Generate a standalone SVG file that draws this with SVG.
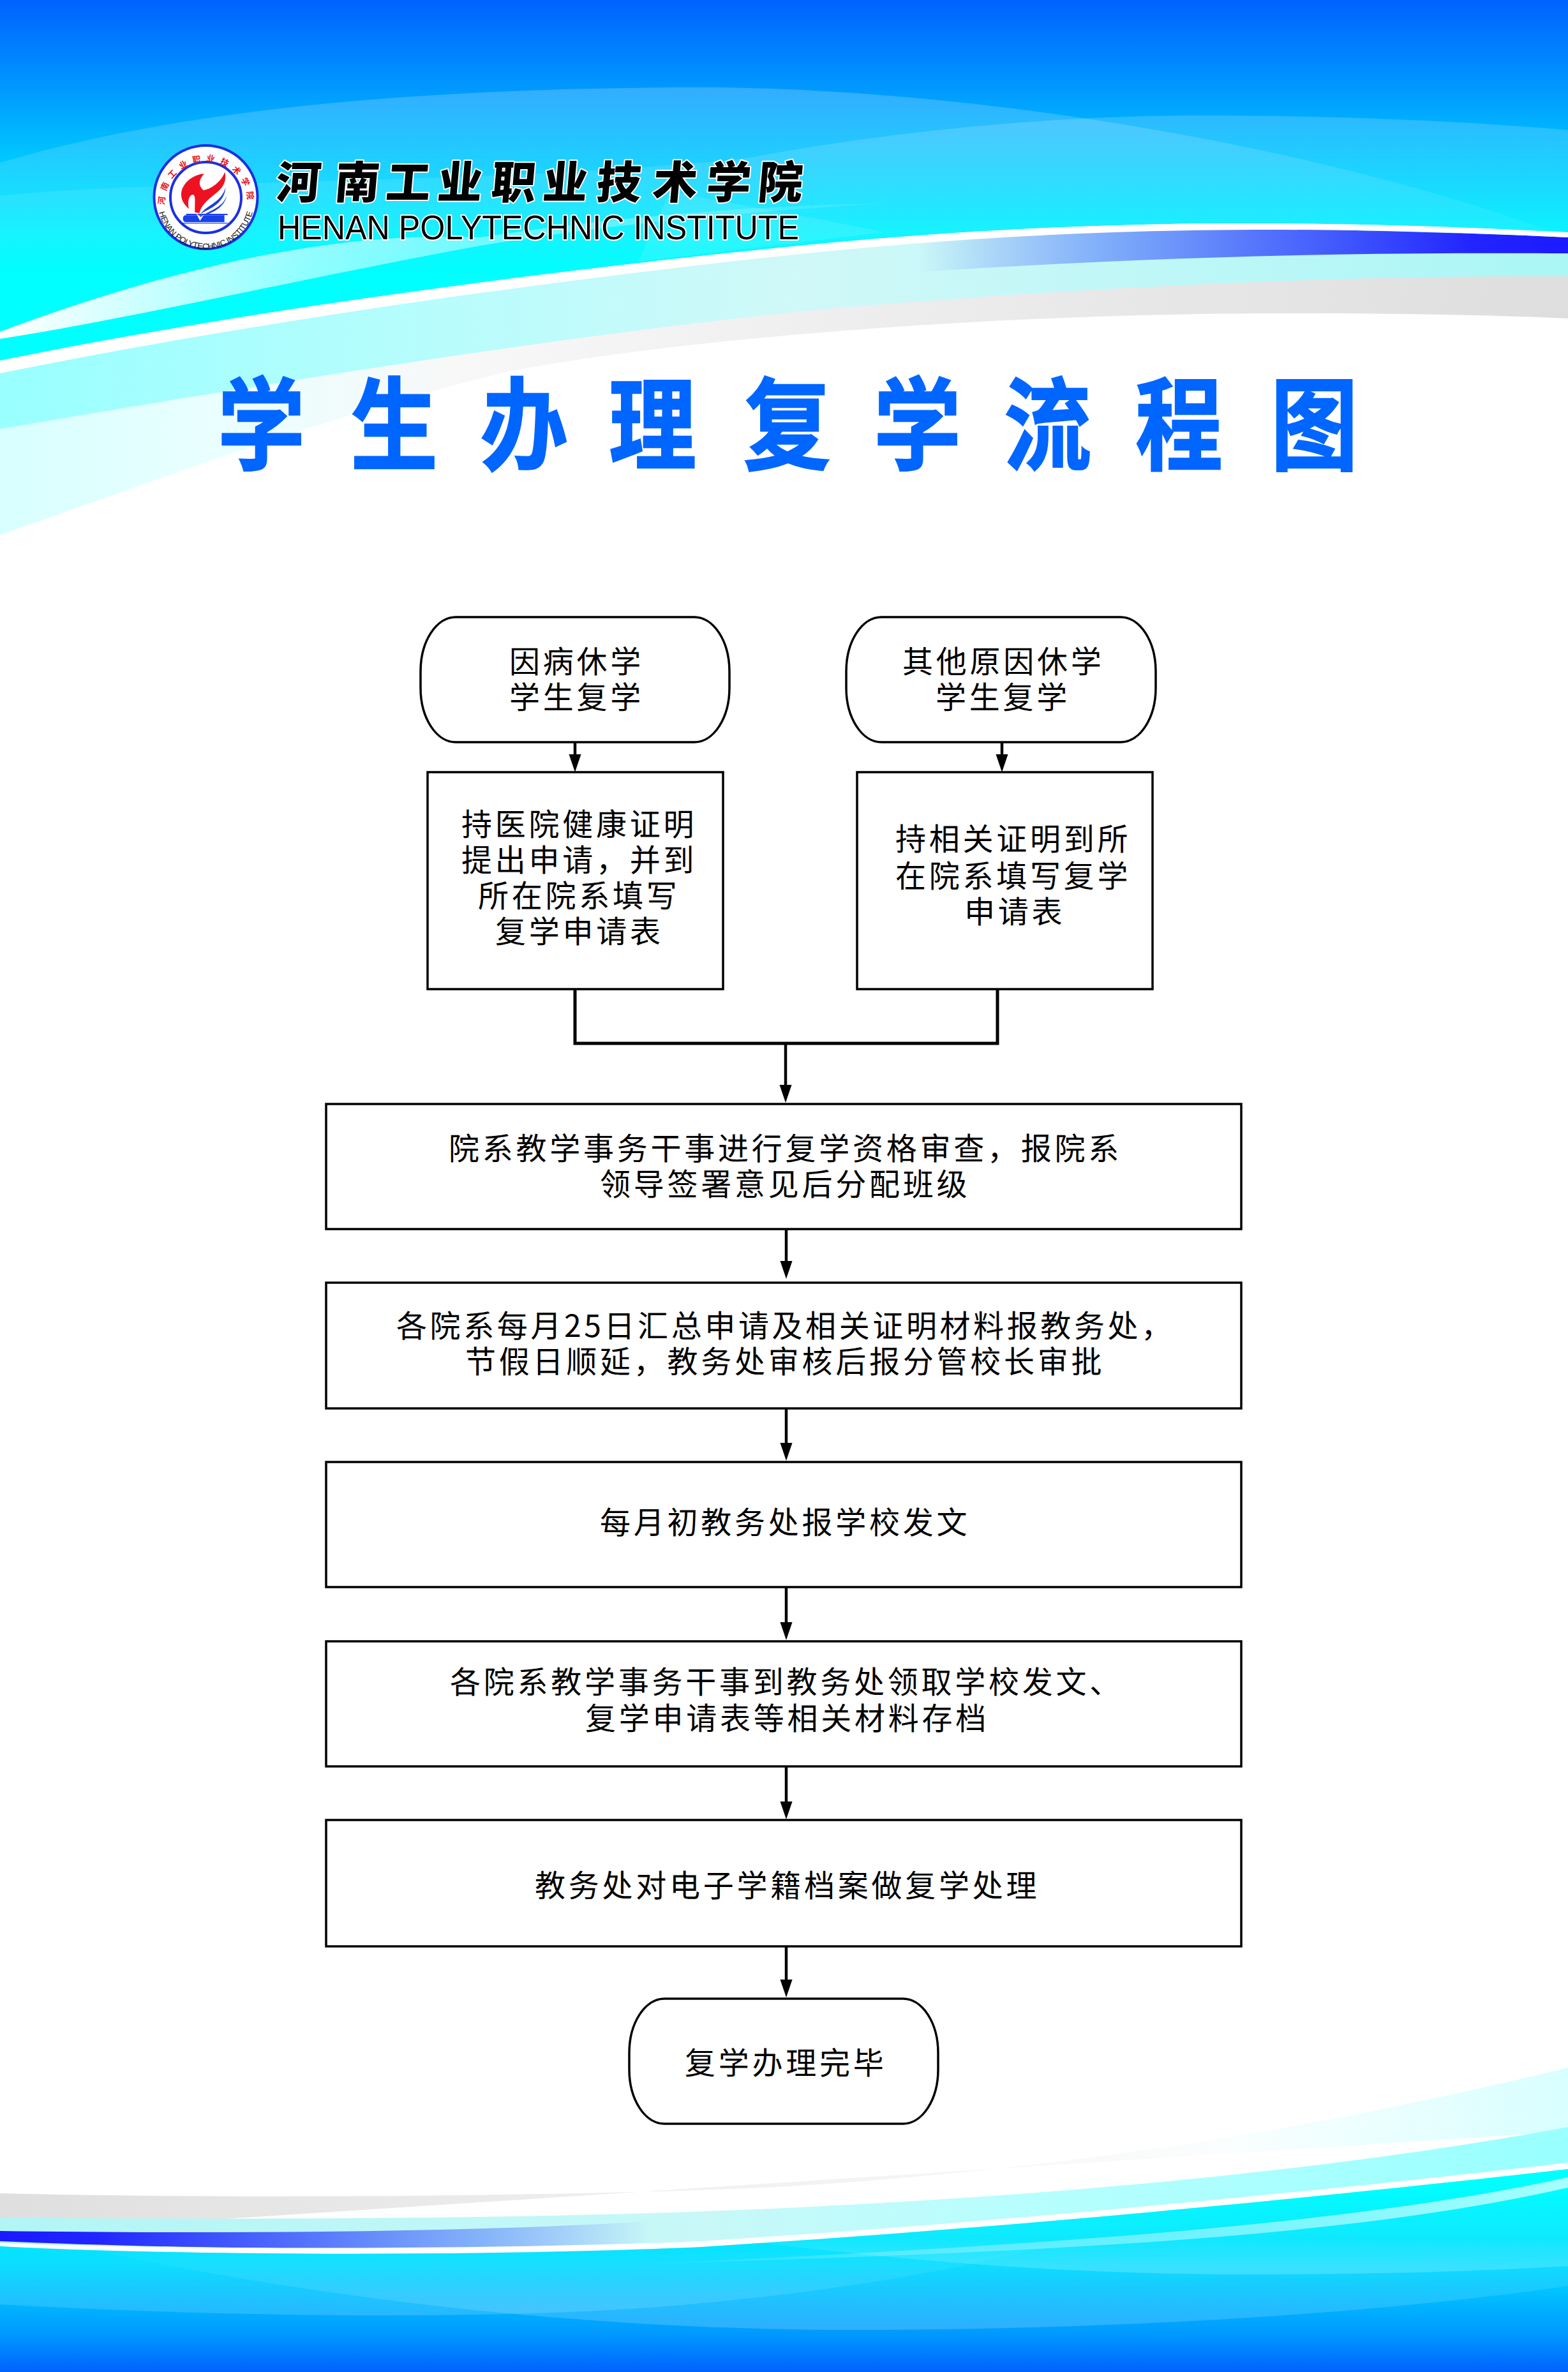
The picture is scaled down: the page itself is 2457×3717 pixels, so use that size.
<svg xmlns="http://www.w3.org/2000/svg" width="2457" height="3717" viewBox="0 0 2457 3717">
<style>
.b{fill:#fff;stroke:#000;stroke-width:3.5}
.t{font-family:"Noto Sans CJK SC","Liberation Sans",sans-serif;font-size:48px;letter-spacing:4.75px;fill:#000}
.c{fill:none;stroke:#000;stroke-width:4.500}
.w{fill:#fff}
</style>
<defs>
<marker id="arr" markerUnits="userSpaceOnUse" markerWidth="30" markerHeight="22" refX="18" refY="10" orient="auto"><path d="M0,0.5 L28,10 L0,19.5 Z" fill="#000"/></marker>
<linearGradient id="topBase" gradientUnits="userSpaceOnUse" x1="0" y1="0" x2="0" y2="436"><stop offset="0" stop-color="#0062ff"/><stop offset=".27" stop-color="#0090ff"/><stop offset=".53" stop-color="#00c0ff"/><stop offset=".85" stop-color="#00f4ff"/><stop offset="1" stop-color="#00ffff"/></linearGradient>
<linearGradient id="botBase" gradientUnits="userSpaceOnUse" x1="0" y1="3420" x2="0" y2="3717"><stop offset="0" stop-color="#00ffff"/><stop offset=".43" stop-color="#00dcff"/><stop offset=".8" stop-color="#0099ff"/><stop offset="1" stop-color="#0062ff"/></linearGradient>
<linearGradient id="topWave" gradientUnits="userSpaceOnUse" x1="0" y1="140" x2="0" y2="430"><stop offset="0" stop-color="#fff" stop-opacity=".2"/><stop offset=".55" stop-color="#fff" stop-opacity=".09"/><stop offset="1" stop-color="#fff" stop-opacity="0"/></linearGradient>
<linearGradient id="botWaveA" gradientUnits="userSpaceOnUse" x1="0" y1="3420" x2="0" y2="3565"><stop offset="0" stop-color="#fff" stop-opacity="0"/><stop offset=".6" stop-color="#fff" stop-opacity=".06"/><stop offset="1" stop-color="#fff" stop-opacity=".2"/></linearGradient>
<linearGradient id="botWaveB" gradientUnits="userSpaceOnUse" x1="0" y1="3510" x2="0" y2="3650"><stop offset="0" stop-color="#fff" stop-opacity="0"/><stop offset="1" stop-color="#fff" stop-opacity=".18"/></linearGradient>
<linearGradient id="topY" gradientUnits="userSpaceOnUse" x1="0" y1="0" x2="2457" y2="0"><stop offset="0" stop-color="#99ffff"/><stop offset=".25" stop-color="#b5fdfd"/><stop offset=".51" stop-color="#d0f8f8"/><stop offset="1" stop-color="#abf6f6"/></linearGradient>
<linearGradient id="topG" gradientUnits="userSpaceOnUse" x1="0" y1="0" x2="2457" y2="0"><stop offset="0" stop-color="#d8ffff"/><stop offset=".14" stop-color="#eaffff"/><stop offset=".29" stop-color="#f8f8f8"/><stop offset=".57" stop-color="#ededed"/><stop offset="1" stop-color="#dedede"/></linearGradient>
<linearGradient id="botY" gradientUnits="userSpaceOnUse" x1="0" y1="0" x2="2457" y2="0"><stop offset="0" stop-color="#b2f5f5"/><stop offset=".45" stop-color="#c8f8f8"/><stop offset=".65" stop-color="#b8fefe"/><stop offset="1" stop-color="#99ffff"/></linearGradient>
<linearGradient id="botG" gradientUnits="userSpaceOnUse" x1="0" y1="0" x2="2457" y2="0"><stop offset="0" stop-color="#dfdfdf"/><stop offset=".4" stop-color="#efefef"/><stop offset=".61" stop-color="#f6f6f6"/><stop offset=".78" stop-color="#fbfefe"/><stop offset="1" stop-color="#d8ffff"/></linearGradient>
<linearGradient id="topBlue" gradientUnits="userSpaceOnUse" x1="1440" y1="0" x2="2457" y2="0"><stop offset="0" stop-color="#1a1aff" stop-opacity="0"/><stop offset=".25" stop-color="#1a3aff" stop-opacity=".35"/><stop offset=".51" stop-color="#1a2aff" stop-opacity=".62"/><stop offset=".85" stop-color="#1a1aff" stop-opacity=".95"/><stop offset="1" stop-color="#1a1aff"/></linearGradient>
<linearGradient id="botBlue" gradientUnits="userSpaceOnUse" x1="1019" y1="0" x2="0" y2="0"><stop offset="0" stop-color="#1a1aff" stop-opacity="0"/><stop offset=".25" stop-color="#1a3aff" stop-opacity=".35"/><stop offset=".51" stop-color="#1a2aff" stop-opacity=".62"/><stop offset=".85" stop-color="#1a1aff" stop-opacity=".95"/><stop offset="1" stop-color="#1a1aff"/></linearGradient>
<linearGradient id="topThin" gradientUnits="userSpaceOnUse" x1="0" y1="0" x2="1400" y2="0"><stop offset="0" stop-color="#fff"/><stop offset=".35" stop-color="#fff" stop-opacity=".55"/><stop offset="1" stop-color="#fff" stop-opacity=".05"/></linearGradient>
<linearGradient id="botThin" gradientUnits="userSpaceOnUse" x1="2457" y1="0" x2="1000" y2="0"><stop offset="0" stop-color="#fff" stop-opacity=".65"/><stop offset=".5" stop-color="#fff" stop-opacity=".35"/><stop offset="1" stop-color="#fff" stop-opacity=".05"/></linearGradient>
<clipPath id="clipTop"><path d="M0,0 H2457 V364 C1900,335 1550,356 1254,385 C900,420 420,480 0,565 Z"/></clipPath>
<clipPath id="clipBot"><path d="M2457,3399 C2100,3440 1600,3490 1100,3521 C800,3535 300,3536 0,3520 V3717 H2457 Z"/></clipPath>
<path id="arcTop" d="M258,318 A65,65 0 1 1 388,318"/>
<path id="arcBot" d="M247,315 A75.500,75.500 0 0 0 398,315"/>
</defs>

<rect width="2457" height="3717" fill="#fff"/>

<g id="banner-top">
<path d="M0,600 L0,838 C200,770 480,660 784,585 C1000,540 1500,490 2037,491 C2200,491 2350,494 2457,499 V400 H0 Z" fill="url(#topG)"/>
<path d="M0,686 L0,672 C600,570 950,520 1254,488 C1500,465 2000,430 2457,433 V360 H0 Z" fill="url(#topY)"/>
<path d="M0,0 H2457 V364 C1900,335 1550,356 1254,385 C900,420 420,480 0,565 Z" fill="url(#topBase)"/>
<g clip-path="url(#clipTop)">
<path d="M0,255 C300,165 700,137 1097,137 C1500,137 2050,220 2457,372 V500 H0 Z" fill="url(#topWave)"/>
<path d="M0,307 C250,280 800,290 1175,247 C1400,205 1650,181 1880,181 C2100,181 2300,190 2457,204 V500 H0 Z" fill="url(#topWave)"/>
<path d="M1050,300 C1150,320 1300,345 1385,364 L1000,410 Z" fill="#fff" fill-opacity=".1"/>
</g>
<path d="M0,520 C200,445 480,360 752,372 C1000,335 1200,322 1400,318 C1200,330 1000,345 752,385 C480,435 200,500 0,531 Z" fill="url(#topThin)"/>
<path d="M1440,378 C1700,358 1950,350 2457,372 L2457,397 C2100,395 1800,403 1440,426 Z" fill="url(#topBlue)"/>
<path d="M0,565 C420,480 900,420 1254,385 C1550,356 1900,335 2457,364 L2457,372 C1900,345 1550,368 1254,398 C900,435 420,500 0,585 Z" class="w"/>
</g>

<g id="banner-bottom">
<path d="M0,3437 C400,3447 1000,3440 1254,3425 C1650,3400 2050,3340 2457,3240 V3340 L0,3500 Z" fill="url(#botG)"/>
<path d="M2457,3333 C2100,3400 1600,3450 1019,3468 C700,3478 300,3478 0,3475 V3560 H2457 Z" fill="url(#botY)"/>
<path d="M0,3496 C300,3500 700,3500 1019,3481 L1019,3518 C700,3528 300,3525 0,3512 Z" fill="url(#botBlue)"/>
<path d="M2457,3389 C2100,3430 1600,3480 1100,3512 C800,3525 300,3526 0,3515 L0,3520 C300,3536 800,3535 1100,3521 C1600,3490 2100,3440 2457,3399 Z" class="w"/>
<path d="M2457,3399 C2100,3440 1600,3490 1100,3521 C800,3535 300,3536 0,3520 V3717 H2457 Z" fill="url(#botBase)"/>
<g clip-path="url(#clipBot)">
<path d="M1081,3500 C1300,3530 1600,3564 1959,3564 C2150,3564 2300,3560 2457,3551 V3380 H1081 Z" fill="url(#botWaveA)"/>
<path d="M0,3611 C300,3628 800,3640 1100,3609 C1350,3585 1550,3550 1750,3490 V3400 H0 Z" fill="url(#botWaveB)"/>
<path d="M0,3490 C300,3570 800,3651 1332,3651 C1800,3651 2200,3620 2457,3582 V3400 H0 Z" fill="url(#botWaveB)"/>
<path d="M2457,3412 C2100,3490 1600,3520 1000,3548 C1600,3530 2100,3510 2457,3428 Z" fill="url(#botThin)"/>
</g>
</g>

<g id="logo">
<circle cx="322.500" cy="309" r="81" fill="#fff" stroke="#1a30e0" stroke-width="4"/>
<circle cx="322.500" cy="309.500" r="55.500" fill="#fff" stroke="#1a30e0" stroke-width="4"/>
<text font-family="Noto Sans CJK SC,sans-serif" font-size="13" font-weight="700" fill="#e8101c" letter-spacing="8" text-anchor="middle"><textPath href="#arcTop" startOffset="50%">河南工业职业技术学院</textPath></text>
<text font-family="Liberation Sans Narrow,Liberation Sans,sans-serif" font-size="13" fill="#111" letter-spacing="-.4" text-anchor="middle"><textPath href="#arcBot" startOffset="50%">HENAN POLYTECHNIC INSTITUTE</textPath></text>
<g transform="translate(220,210) scale(.3333)">
<path d="M300,187 C245,190 192,235 192,285 C192,315 210,335 228,352 C222,320 225,290 245,285 C262,285 255,320 256,368 L278,372 C285,330 330,300 365,270 C395,245 405,215 397,178 C385,215 345,255 297,265 C280,250 265,225 300,187 Z" fill="#ee1122"/>
<path d="M285,375 C310,335 385,320 400,250 C400,300 360,340 300,365 Z M300,378 C340,355 390,340 405,290 C400,330 360,365 300,382 Z" fill="#1a40e0"/>
<path d="M215,375 H410 V381 H215 Z M212,382 H395 V414 H212 C196,414 196,382 212,382 Z M200,417 H410 V421 H200 Z" fill="#1a40e8"/>
<path d="M262,372 L280,408 L300,378 L284,390 Z" fill="#fff"/>
</g>
</g>

<g id="school-name" style="paint-order:stroke" stroke="#fff" stroke-linejoin="round">
<text transform="translate(0,311) skewX(-5)" x="431 523 603 684 768 849 933 1021 1105 1186" font-family="Noto Sans CJK SC,sans-serif" font-size="70" font-weight="900" fill="#000" stroke-width="4">河南工业职业技术学院</text>
<text x="435" y="375" font-family="Liberation Sans,sans-serif" font-size="53" fill="#000" stroke-width="4" textLength="817" lengthAdjust="spacingAndGlyphs">HENAN POLYTECHNIC INSTITUTE</text>
</g>

<text id="title" transform="translate(0,724) scale(1,1.15)" x="341 549 753 954 1165 1369 1573 1779 1991" y="0" font-family="Noto Sans CJK SC,sans-serif" font-size="137" font-weight="700" fill="#0066ff" stroke="#0066ff" stroke-width="2">学生办理复学流程图</text>

<g id="connectors">
<line class="c" x1="901" y1="1163" x2="901" y2="1200" marker-end="url(#arr)"/>
<line class="c" x1="1570" y1="1163" x2="1570" y2="1200" marker-end="url(#arr)"/>
<path class="c" d="M901,1550 V1635 H1563 V1550" style="stroke-width:5"/>
<line class="c" x1="1231" y1="1635" x2="1231" y2="1718" marker-end="url(#arr)"/>
<line class="c" x1="1232" y1="1920" x2="1232" y2="1994" marker-end="url(#arr)"/>
<line class="c" x1="1232" y1="2207" x2="1232" y2="2279" marker-end="url(#arr)"/>
<line class="c" x1="1232" y1="2487" x2="1232" y2="2560" marker-end="url(#arr)"/>
<line class="c" x1="1232" y1="2768" x2="1232" y2="2841" marker-end="url(#arr)"/>
<line class="c" x1="1232" y1="3047" x2="1232" y2="3120" marker-end="url(#arr)"/>
</g>

<g id="node-illness"><rect class="b" x="659" y="967" width="484" height="196" rx="55" ry="85"/>
<text class="t" x="798" y="1054">因病休学</text><text class="t" x="798" y="1110">学生复学</text></g>
<g id="node-other"><rect class="b" x="1326" y="967" width="485" height="196" rx="55" ry="85"/>
<text class="t" x="1414" y="1054">其他原因休学</text><text class="t" x="1466" y="1110">学生复学</text></g>
<g id="node-illness-form"><rect class="b" x="670" y="1210" width="463" height="340"/>
<text class="t" x="723" y="1309">持医院健康证明</text><text class="t" x="723" y="1365">提出申请，并到</text><text class="t" x="749" y="1421">所在院系填写</text><text class="t" x="776" y="1477">复学申请表</text></g>
<g id="node-other-form"><rect class="b" x="1343" y="1210" width="463" height="340"/>
<text class="t" x="1403" y="1332">持相关证明到所</text><text class="t" x="1403" y="1390">在院系填写复学</text><text class="t" x="1511" y="1446">申请表</text></g>
<g id="node-review"><rect class="b" x="511" y="1730" width="1434" height="196"/>
<text class="t" x="703" y="1817">院系教学事务干事进行复学资格审查，报院系</text><text class="t" x="940" y="1873">领导签署意见后分配班级</text></g>
<g id="node-monthly"><rect class="b" x="511" y="2010" width="1434" height="197"/>
<text class="t" x="621" y="2095" style="letter-spacing:4.6px">各院系每月25日汇总申请及相关证明材料报教务处，</text><text class="t" x="729" y="2151">节假日顺延，教务处审核后报分管校长审批</text></g>
<g id="node-issue"><rect class="b" x="511" y="2291" width="1434" height="196"/>
<text class="t" x="940" y="2403">每月初教务处报学校发文</text></g>
<g id="node-archive"><rect class="b" x="511" y="2572" width="1434" height="196"/>
<text class="t" x="705" y="2653">各院系教学事务干事到教务处领取学校发文、</text><text class="t" x="917" y="2710">复学申请表等相关材料存档</text></g>
<g id="node-electronic"><rect class="b" x="511" y="2852" width="1434" height="198"/>
<text class="t" x="838" y="2972">教务处对电子学籍档案做复学处理</text></g>
<g id="node-done"><rect class="b" x="986" y="3132" width="484" height="196" rx="55" ry="85"/>
<text class="t" x="1073" y="3250">复学办理完毕</text></g>
</svg>
